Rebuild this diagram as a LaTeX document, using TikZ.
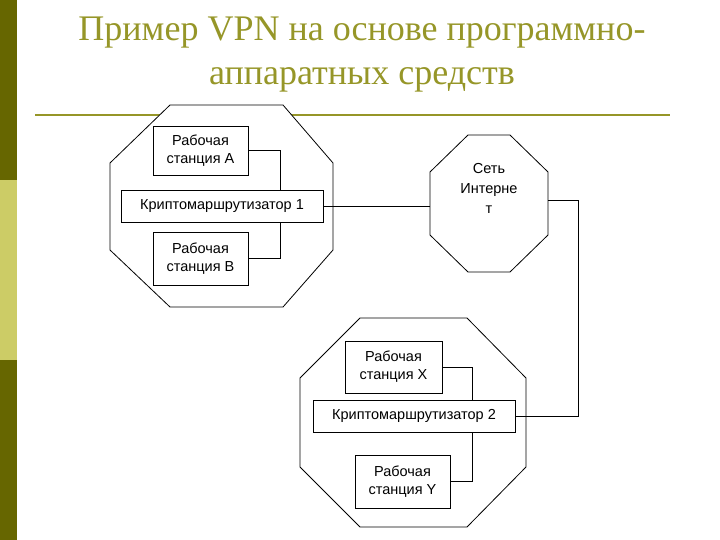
\documentclass[tikz,border=0pt]{standalone}
\usepackage{fontspec}
\setmainfont{Liberation Serif}
\newfontfamily\arialf{Liberation Sans}
\definecolor{darkol}{RGB}{102,102,0}
\definecolor{lightol}{RGB}{204,204,102}
\definecolor{titleol}{RGB}{150,150,40}
\begin{document}
\begin{tikzpicture}[x=1pt,y=-1pt,
  box/.style={draw,thick,fill=white,align=center,font=\arialf\fontsize{14.5}{18}\selectfont,inner sep=0pt},
  oct/.style={draw,thick},
  wire/.style={draw,thick}]
\useasboundingbox (0,0) rectangle (720,540);
\fill[darkol] (0,0) rectangle (17,180);
\fill[lightol] (0,180) rectangle (17,360);
\fill[darkol] (0,360) rectangle (17,540);
\node[text=titleol,font=\fontsize{36}{44}\selectfont,align=center] (title) at (362,55) {Пример VPN на основе программно-\\аппаратных средств};
\draw[titleol,line width=1.5pt] (35,115) -- (670,115);
% octagon 1
\draw[oct,fill=white] (170,105) -- (283,105) -- (333,163) -- (333,250) -- (283,307) -- (170,307) -- (110,250) -- (110,163) -- cycle;
% internet
\draw[oct,fill=white] (468,135) -- (510,135) -- (548,172) -- (548,235) -- (510,272) -- (468,272) -- (430,235) -- (430,172) -- cycle;
\node[font=\arialf\fontsize{14.5}{20}\selectfont,align=center] (net) at (489,188) {Сеть\\Интерне\\т};
\coordinate (netL) at (430,206);
\coordinate (netR) at (548,200);
% octagon 2
\draw[oct,fill=white] (360,318) -- (467,318) -- (526,378) -- (526,467) -- (467,527) -- (360,527) -- (300,467) -- (300,378) -- cycle;
% boxes
\node[box,minimum width=95pt,minimum height=49pt] (A) at (200.5,150.5) {Рабочая\\станция А};
\node[box,minimum width=202pt,minimum height=32pt] (K1) at (222,206) {Криптомаршрутизатор 1};
\node[box,minimum width=95pt,minimum height=53pt] (B) at (200.5,258.5) {Рабочая\\станция В};
\node[box,minimum width=97pt,minimum height=52pt] (X) at (393.5,367) {Рабочая\\станция Х};
\node[box,minimum width=202pt,minimum height=32pt] (K2) at (414,416) {Криптомаршрутизатор 2};
\node[box,minimum width=95pt,minimum height=53pt] (Y) at (402.5,481.5) {Рабочая\\станция Y};
% wires
\draw[wire] (A.east) -- (280,150.5) -- (280,190);
\draw[wire] (B.east) -- (280,258.5) -- (280,222);
\draw[wire] (K1.east) -- (netL);
\draw[wire] (netR) -- (578,200) -- (578,416) -- (K2.east);
\draw[wire] (X.east) -- (472,367) -- (472,400);
\draw[wire] (Y.east) -- (472,481.5) -- (472,432);
\end{tikzpicture}
\end{document}
